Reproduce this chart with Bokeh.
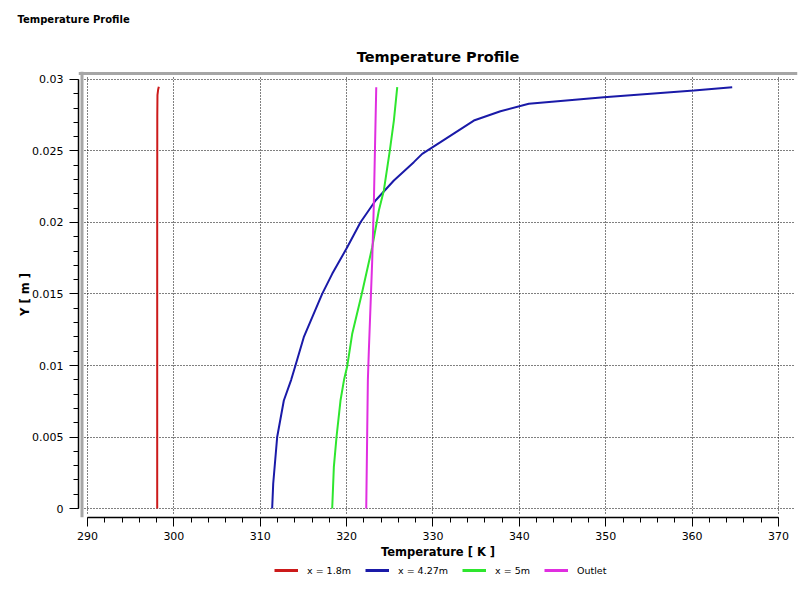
from bokeh.plotting import figure
from bokeh.layouts import column
from bokeh.models import (Range1d, SingleIntervalTicker, CustomJSTickFormatter,
                          Span, Legend, LegendItem, Title)
from bokeh.embed import file_html
from bokeh.resources import INLINE

# ---------------- data ----------------
series_names = ["x = 1.8m", "x = 4.27m", "x = 5m", "Outlet"]
series_colors = ["#cc1a1a", "#1a1aa8", "#2ee62e", "#e02ee0"]

red_T = [298.07, 298.07, 298.07, 298.08, 298.10, 298.18, 298.26]
red_Y = [0.0, 0.010, 0.020, 0.0275, 0.0289, 0.0293, 0.0295]

blue_T = [311.38, 311.50, 311.96, 312.73, 313.58, 314.05, 315.04, 317.17, 318.33,
          320.07, 321.61, 323.35, 325.47, 327.78, 328.75, 330.87, 334.73,
          337.81, 341.09, 349.78, 360.20, 364.64]
blue_Y = [0.0, 0.00173, 0.0050, 0.00755, 0.0090, 0.00995, 0.01198, 0.01501, 0.01641,
          0.01827, 0.02002, 0.02154, 0.02294, 0.02422, 0.02480, 0.02562, 0.02713,
          0.02778, 0.02830, 0.02876, 0.02923, 0.02946]

green_T = [318.33, 318.52, 318.83, 319.29, 319.70, 320.07, 320.64, 321.75, 322.96,
           323.73, 324.31, 325.00, 325.47, 325.86]
green_Y = [0.0, 0.00289, 0.0050, 0.00755, 0.0090, 0.00995, 0.0122, 0.0150, 0.01827,
           0.02084, 0.02224, 0.02503, 0.02713, 0.02946]

outlet_T = [322.27, 322.38, 322.46, 322.57, 322.96, 323.15, 323.30, 323.43]
outlet_Y = [0.0, 0.0052, 0.0090, 0.0110, 0.0173, 0.0213, 0.0257, 0.02946]

x_ticks_interval = 10
y_ticks_interval = 0.005

FONT = "DejaVu Sans"

X0, X1 = 288.958, 372.2
Y0, Y1 = -0.000629, 0.030559
PX_X = 719 / (X1 - X0)
PX_Y = 446 / (Y1 - Y0)

# ---------------- page header strip ----------------
hf = figure(width=811, height=30, output_backend="svg", toolbar_location=None,
            x_range=Range1d(0, 1), y_range=Range1d(0, 1),
            min_border_left=0, min_border_right=0, min_border_top=27, min_border_bottom=0,
            title="Temperature Profile")
hf.axis.visible = False
hf.grid.visible = False
hf.outline_line_color = None
hf.title.text_font = FONT
hf.title.text_font_size = "10px"
hf.title.text_font_style = "bold"
hf.title.align = "left"
hf.title.standoff = 6
hf.title.offset = -61
hf.title.text_color = "black"

# ---------------- main chart ----------------
p = figure(width=811, height=535, output_backend="svg", toolbar_location=None,
           x_range=Range1d(X0, X1), y_range=Range1d(Y0, Y1),
           min_border_left=78, min_border_right=14, min_border_top=41, min_border_bottom=48)
p.outline_line_color = None
p.background_fill_color = "white"
p.border_fill_color = "white"

big = Title(text="Temperature Profile", align="center", text_font=FONT,
            text_font_size="14.5px", text_font_style="bold", text_color="black",
            standoff=14)
p.add_layout(big, "above")

xa = p.xaxis[0]
xa.ticker = SingleIntervalTicker(interval=x_ticks_interval, num_minor_ticks=5)
xa.bounds = (290, 370)
xa.axis_label = "Temperature [ K ]"
ya = p.yaxis[0]
ya.ticker = SingleIntervalTicker(interval=y_ticks_interval, num_minor_ticks=5)
ya.bounds = (0, 0.03)
ya.axis_label = "Y [ m ]"
ya.formatter = CustomJSTickFormatter(code="return String(Number(tick.toFixed(4)));")

for ax in (xa, ya):
    ax.axis_line_color = "black"
    ax.axis_line_width = 1.5
    ax.major_tick_line_color = "black"
    ax.minor_tick_line_color = "black"
    ax.major_tick_in = 0
    ax.major_tick_out = 9
    ax.minor_tick_in = 0
    ax.minor_tick_out = 5
    ax.major_label_text_font = FONT
    ax.major_label_text_font_size = "11px"
    ax.major_label_text_color = "black"
    ax.axis_label_text_font = FONT
    ax.axis_label_text_font_size = "11.5px"
    ax.axis_label_text_font_style = "bold"
    ax.axis_label_text_color = "black"
xa.major_label_standoff = 5
xa.axis_label_standoff = 2
ya.major_label_standoff = 6
ya.axis_label_standoff = -3

for g in (p.xgrid[0], p.ygrid[0]):
    g.grid_line_color = "black"
    g.grid_line_dash = "1 2"
    g.grid_line_width = 1
p.xgrid[0].cross_bounds = (Y0 + 4 / PX_Y, Y1 - 5 / PX_Y)
p.ygrid[0].cross_bounds = (X0 + 6 / PX_X, X1 - 2 / PX_X)

# gray frame edges (left and top)
p.add_layout(Span(location=X0 + 3.5 / PX_X, dimension="height",
                  line_color="#a6a6a6", line_width=3))
p.add_layout(Span(location=Y1 - 2 / PX_Y, dimension="width",
                  line_color="#a6a6a6", line_width=3))

all_T = [red_T, blue_T, green_T, outlet_T]
all_Y = [red_Y, blue_Y, green_Y, outlet_Y]
for T, Y, c in zip(all_T, all_Y, series_colors):
    p.line(T, Y, line_color=c, line_width=2)

# ---------------- legend strip (own ranges keep the lines out of view) ----------------
lf = figure(width=811, height=30, output_backend="svg", toolbar_location=None,
            x_range=Range1d(0, 1), y_range=Range1d(0, 1),
            min_border_left=0, min_border_right=0, min_border_top=0, min_border_bottom=0)
lf.axis.visible = False
lf.grid.visible = False
lf.outline_line_color = None
items = []
for name, T, Y, c in zip(series_names, all_T, all_Y, series_colors):
    r = lf.line(T, Y, line_color=c, line_width=3)
    items.append(LegendItem(label=name, renderers=[r]))
legend = Legend(items=items, orientation="horizontal", location=(196, 19),
                glyph_width=24, glyph_height=12, label_height=12,
                label_standoff=9, spacing=14,
                label_text_font=FONT, label_text_font_size="9.5px",
                label_text_color="black", border_line_color=None,
                background_fill_alpha=0, margin=0, padding=0)
lf.add_layout(legend, "center")

open("out.html", "w").write(file_html(column(hf, p, lf, spacing=0), INLINE))
